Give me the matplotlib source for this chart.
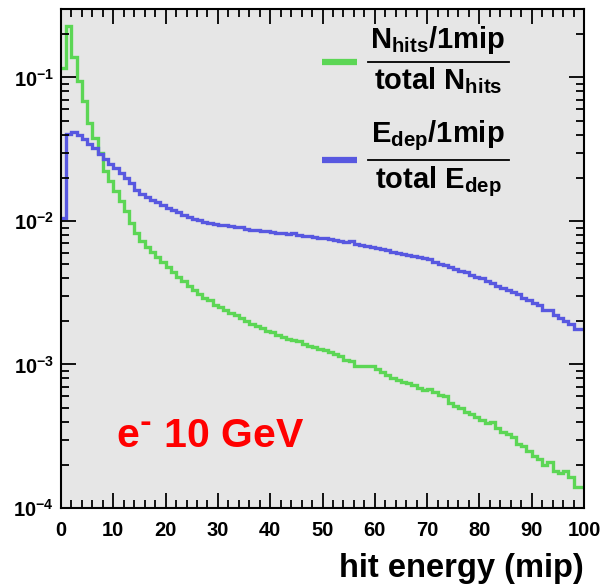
import numpy as np
import matplotlib
matplotlib.use("Agg")
import matplotlib.pyplot as plt
from matplotlib.lines import Line2D
from matplotlib.ticker import MultipleLocator, LogLocator, NullFormatter

# ---------------- data ----------------
bin_edges = np.arange(0, 101, 1)

nhits_frac = [
    0.116, 0.23, 0.138, 0.095, 0.069, 0.048, 0.038, 0.030, 0.0224, 0.019,
    0.0162, 0.0138, 0.0118, 0.0097, 0.0082, 0.0072, 0.0066, 0.0061, 0.0056, 0.0052,
    0.0048, 0.0044, 0.0041, 0.0038, 0.0035, 0.0033, 0.0031, 0.0029, 0.0028, 0.0026,
    0.0025, 0.0024, 0.0023, 0.0022, 0.0021, 0.0020, 0.0019, 0.00185, 0.0018, 0.00172,
    0.00168, 0.0016, 0.00155, 0.0015, 0.00147, 0.00145, 0.0014, 0.00135, 0.00132, 0.00128,
    0.00127, 0.00122, 0.00118, 0.00115, 0.00108, 0.00105, 0.00098, 0.00097, 0.00097, 0.00097,
    0.00093, 0.00088, 0.00084, 0.00081, 0.00078, 0.00076, 0.00074, 0.00072, 0.00069, 0.00066,
    0.00068, 0.00064, 0.00061, 0.00060, 0.00054, 0.00051, 0.00050, 0.00047, 0.00045, 0.00043,
    0.00041, 0.00039, 0.00040, 0.00036, 0.00034, 0.00033, 0.00031, 0.00028, 0.00027, 0.00025,
    0.00023, 0.00022, 0.00020, 0.00021, 0.00018, 0.000175, 0.00018, 0.000165, 0.00014, 0.00014,
]

edep_frac = [
    0.0105, 0.0405, 0.042, 0.040, 0.037, 0.0345, 0.032, 0.0295, 0.027, 0.025,
    0.0235, 0.0215, 0.020, 0.0185, 0.0165, 0.0155, 0.0148, 0.014, 0.0136, 0.013,
    0.0124, 0.012, 0.0115, 0.011, 0.0107, 0.0104, 0.0102, 0.0099, 0.0097, 0.0096,
    0.0094, 0.0094, 0.0093, 0.0091, 0.0091, 0.0088, 0.0087, 0.0087, 0.0085, 0.0085,
    0.0084, 0.0083, 0.0082, 0.0081, 0.0082, 0.0080, 0.0079, 0.0079, 0.0077, 0.0076,
    0.0076, 0.0075, 0.0074, 0.0072, 0.0071, 0.0072, 0.0069, 0.0068, 0.0067, 0.0066,
    0.0065, 0.0064, 0.0063, 0.0061, 0.0060, 0.0059, 0.0058, 0.0057, 0.0056, 0.0055,
    0.0054, 0.0052, 0.0050, 0.0049, 0.0048, 0.0046, 0.0045, 0.0044, 0.0042, 0.0041,
    0.0040, 0.0038, 0.0037, 0.0035, 0.0034, 0.0033, 0.0032, 0.0031, 0.0029, 0.0028,
    0.0027, 0.0026, 0.0024, 0.0024, 0.0022, 0.0021, 0.0020, 0.0019, 0.00178, 0.00178,
]

x_label = "hit energy (mip)"
annotation = r"e$^{\text{-}}$ 10 GeV"
xtick_values = list(range(0, 101, 10))

GREEN = "#5cd655"
BLUE = "#5858e0"

# ---------------- style ----------------
plt.rcParams["font.family"] = ["Liberation Sans", "DejaVu Sans"]
plt.rcParams["font.weight"] = "bold"
plt.rcParams["mathtext.default"] = "regular"

W, H = 604, 584
fig = plt.figure(figsize=(W / 100, H / 100), dpi=100)
fig.patch.set_facecolor("white")

def fx(px):
    return px / W

def fy(py):
    return 1 - py / H

ax = fig.add_axes([fx(61), fy(508), fx(584) - fx(61), fy(9) - fy(508)])
ax.set_facecolor("#e6e6e6")

ax.stairs(nhits_frac, bin_edges, baseline=None, color=GREEN, linewidth=2.4)
ax.stairs(edep_frac, bin_edges, baseline=None, color=BLUE, linewidth=2.4)

ax.set_yscale("log")
ax.set_xlim(0, 100)
ax.set_ylim(1e-4, 0.3)

ax.xaxis.set_major_locator(MultipleLocator(10))
ax.xaxis.set_minor_locator(MultipleLocator(2))
ax.set_xticks(xtick_values)
ax.yaxis.set_major_locator(LogLocator(base=10, numticks=10))
ax.yaxis.set_minor_locator(LogLocator(base=10, subs=np.arange(2, 10), numticks=20))
ax.yaxis.set_minor_formatter(NullFormatter())

ax.tick_params(which="both", direction="in", top=True, right=True, width=1.3, colors="black")
ax.tick_params(which="major", length=11)
ax.tick_params(which="minor", length=6)
ax.tick_params(axis="x", which="major", labelsize=14.5, pad=9)
ax.tick_params(axis="y", which="major", labelsize=14.5, pad=5)
for sp in ax.spines.values():
    sp.set_linewidth(1.5)

# x label (right aligned)
fig.text(fx(584), fy(577), x_label, ha="right", va="baseline", fontsize=23.5, fontweight="bold")

# annotation
fig.text(fx(116), fy(447), annotation, color="red",
         fontsize=29.5, fontweight="bold", ha="left", va="baseline")

# ---------------- legend (fractions) ----------------
leg_fs = 21
def fraction_entry(color, y_bar, num, den, y_num, y_den):
    fig.add_artist(Line2D([fx(322), fx(357)], [fy(y_bar), fy(y_bar)],
                          color=color, linewidth=4.5, solid_capstyle="butt"))
    fig.add_artist(Line2D([fx(368), fx(509)], [fy(y_bar), fy(y_bar)],
                          color="black", linewidth=1.3))
    fig.text(fx(438), fy(y_num), num, ha="center", va="baseline", fontsize=leg_fs, fontweight="bold")
    fig.text(fx(438), fy(y_den), den, ha="center", va="baseline", fontsize=leg_fs, fontweight="bold")

fraction_entry(GREEN, 62, r"N$_{hits}$/1mip", r"total N$_{hits}$", 48, 89)
fraction_entry(BLUE, 160, r"E$_{dep}$/1mip", r"total E$_{dep}$", 142, 188)

fig.savefig("out.png", dpi=100)
